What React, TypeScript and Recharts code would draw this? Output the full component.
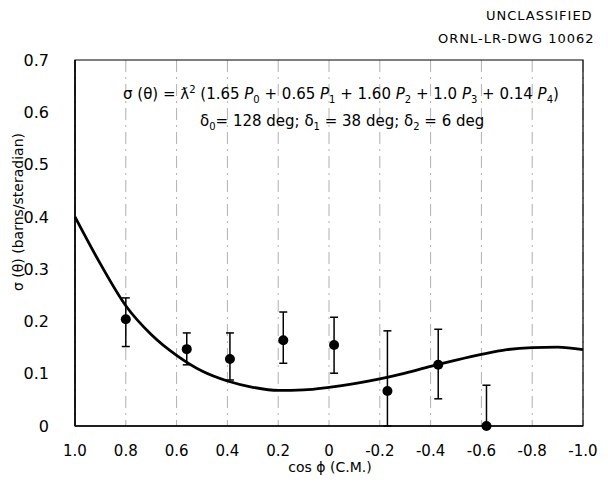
import {
  ComposedChart,
  Line,
  Scatter,
  ErrorBar,
  XAxis,
  YAxis,
  CartesianGrid,
  ReferenceArea
} from "recharts";

const FONT = "'DejaVu Sans', 'Liberation Sans', sans-serif";

// axis ticks
const cosTicks = [1, 0.8, 0.6, 0.4, 0.2, 0, -0.2, -0.4, -0.6, -0.8, -1];
const sigmaTicks = [0, 0.1, 0.2, 0.3, 0.4, 0.5, 0.6, 0.7];

// fitted curve
const fitCos = [1.0, 0.9, 0.8, 0.7, 0.6, 0.5, 0.4, 0.3, 0.2, 0.1, 0.0, -0.1, -0.2, -0.3, -0.4, -0.5, -0.6, -0.7, -0.8, -0.9, -1.0];
const fitSigma = [0.4, 0.31, 0.23, 0.175, 0.135, 0.105, 0.086, 0.074, 0.068, 0.069, 0.074, 0.081, 0.09, 0.101, 0.114, 0.126, 0.137, 0.146, 0.15, 0.151, 0.146];

// measured points with error bars
const pointCos = [0.8, 0.56, 0.39, 0.18, -0.02, -0.23, -0.43, -0.62];
const pointSigma = [0.204, 0.147, 0.128, 0.164, 0.155, 0.067, 0.117, 0];
const pointLow = [0.152, 0.117, 0.088, 0.12, 0.101, 0, 0.052, 0];
const pointHigh = [0.245, 0.178, 0.178, 0.218, 0.208, 0.182, 0.185, 0.078];

const curve = fitCos.map((x, i) => ({ x, s: fitSigma[i] }));
const points = pointCos.map((x, i) => ({
  x,
  y: pointSigma[i],
  err: [pointSigma[i] - pointLow[i], pointHigh[i] - pointSigma[i]]
}));

const fmt = (v: number) => (v === 0 ? "0" : v.toFixed(1));

const Dot = (props: { cx?: number; cy?: number }) => (
  <circle cx={props.cx} cy={props.cy} r={5} fill="#000" />
);

const text = (style: React.CSSProperties) => ({
  position: "absolute" as const,
  fontFamily: FONT,
  color: "#000",
  whiteSpace: "nowrap" as const,
  ...style
});

export default function App() {
  return (
    <div
      style={{
        position: "absolute",
        left: 0,
        top: 0,
        width: 608,
        height: 484,
        background: "#fff",
        fontFamily: FONT
      }}
    >
      <ComposedChart
        width={608}
        height={484}
        data={curve}
        margin={{ top: 60, right: 25, left: 0, bottom: 28 }}
      >
        <CartesianGrid
          horizontal={false}
          stroke="#b0b0b0"
          strokeDasharray="12 5 2 5"
          verticalValues={cosTicks}
        />
        <XAxis
          dataKey="x"
          type="number"
          domain={[-1, 1]}
          reversed
          ticks={cosTicks}
          tickFormatter={fmt}
          tickLine={false}
          tickSize={6}
          tickMargin={13}
          height={30}
          axisLine={{ stroke: "#000", strokeWidth: 1.5 }}
          tick={{ fill: "#000", fontSize: 15, fontFamily: FONT }}
        />
        <YAxis
          type="number"
          domain={[0, 0.7]}
          ticks={sigmaTicks}
          tickFormatter={fmt}
          tickLine={false}
          tickSize={6}
          tickMargin={20}
          width={75}
          axisLine={{ stroke: "#000", strokeWidth: 1.5 }}
          tick={{ fill: "#000", fontSize: 16, fontFamily: FONT }}
        />
        <ReferenceArea
          x1={1}
          x2={-1}
          y1={0}
          y2={0.7}
          fill="none"
          stroke="#000"
          strokeWidth={1.2}
        />
        <Line
          dataKey="s"
          type="monotone"
          stroke="#000"
          strokeWidth={2.8}
          dot={false}
          isAnimationActive={false}
        />
        <Scatter
          data={points}
          dataKey="y"
          shape={<Dot />}
          isAnimationActive={false}
        >
          <ErrorBar
            dataKey="err"
            direction="y"
            width={4}
            stroke="#000"
            strokeWidth={1.5}
          />
        </Scatter>
      </ComposedChart>

      <div style={text({ left: 486, top: 8, fontSize: 13, letterSpacing: 1 })}>
        UNCLASSIFIED
      </div>
      <div style={text({ left: 438, top: 31, fontSize: 13, letterSpacing: 1 })}>
        ORNL-LR-DWG 10062
      </div>

      <div style={text({ left: 123, top: 84, fontSize: 15 })}>
        σ (θ) = ƛ<sup style={{ fontSize: 10 }}>2</sup> (1.65 <i>P</i>
        <sub style={{ fontSize: 10 }}>0</sub> + 0.65 <i>P</i>
        <sub style={{ fontSize: 10 }}>1</sub> + 1.60 <i>P</i>
        <sub style={{ fontSize: 10 }}>2</sub> + 1.0 <i>P</i>
        <sub style={{ fontSize: 10 }}>3</sub> + 0.14 <i>P</i>
        <sub style={{ fontSize: 10 }}>4</sub>)
      </div>
      <div style={text({ left: 200, top: 112, fontSize: 15 })}>
        δ<sub style={{ fontSize: 10 }}>0</sub>= 128 deg; δ
        <sub style={{ fontSize: 10 }}>1</sub> = 38 deg; δ
        <sub style={{ fontSize: 10 }}>2</sub> = 6 deg
      </div>

      <div
        style={text({
          left: 18,
          top: 212,
          fontSize: 14,
          transform: "translate(-50%, -50%) rotate(-90deg)"
        })}
      >
        σ (θ) (barns/steradian)
      </div>
      <div style={text({ left: 330, top: 467, fontSize: 14, transform: "translate(-50%, -50%)" })}>
        cos ϕ (C.M.)
      </div>
    </div>
  );
}
